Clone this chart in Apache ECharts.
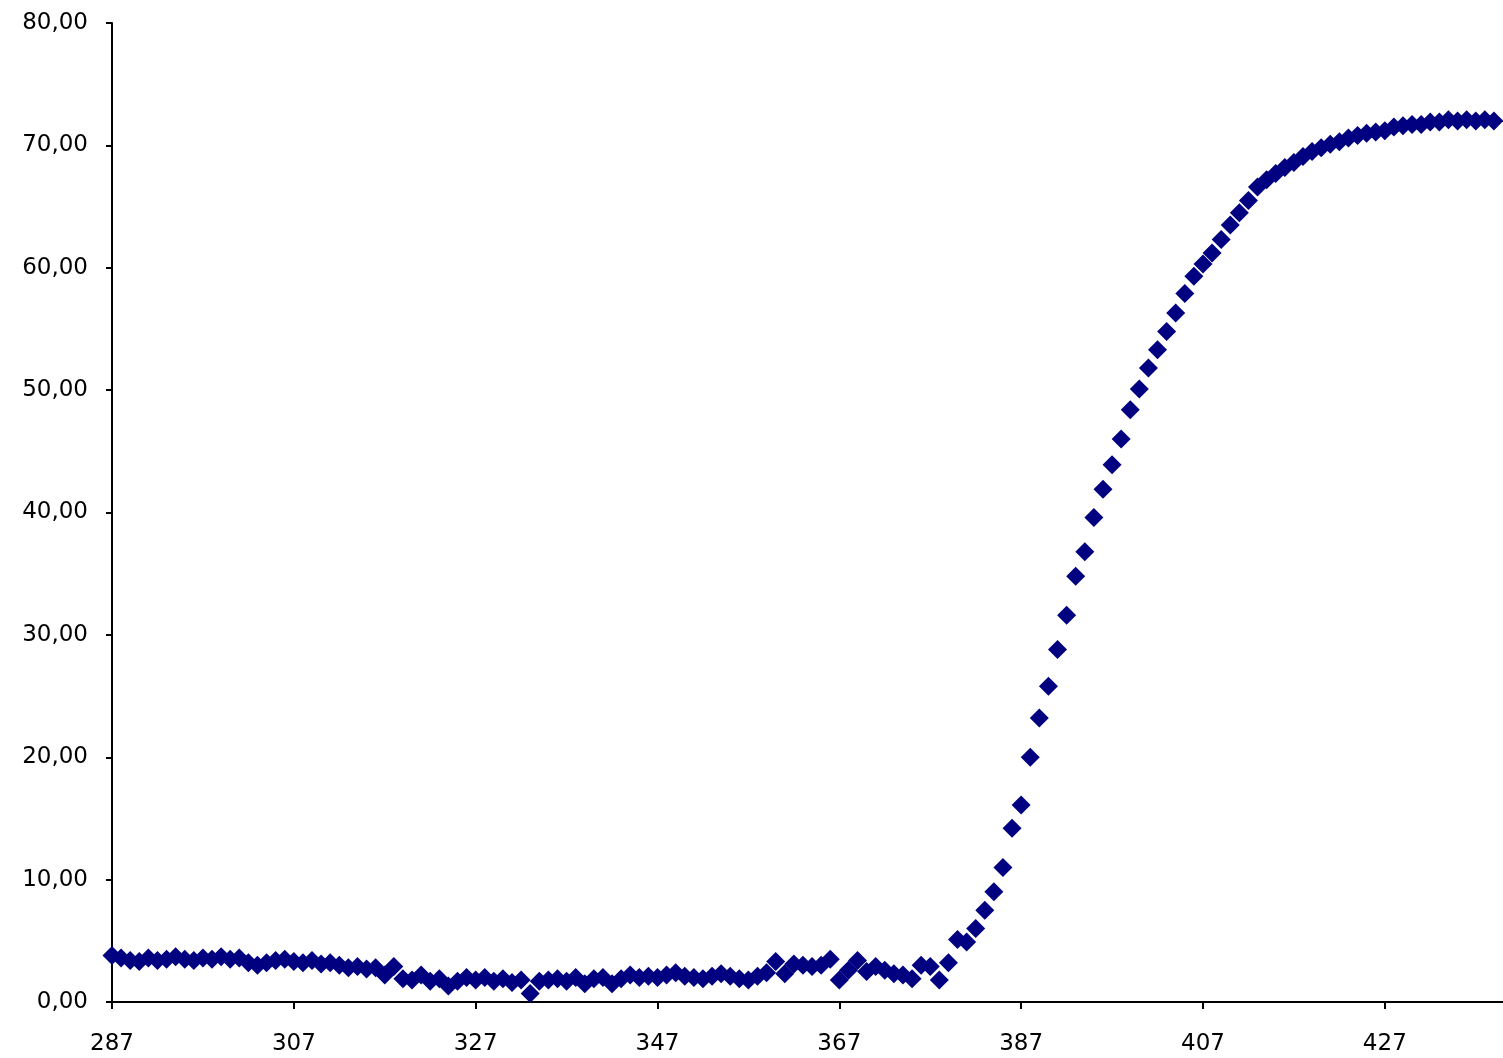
<!DOCTYPE html>
<html>
<head>
<meta charset="utf-8">
<script src="https://cdn.jsdelivr.net/npm/echarts@6/dist/echarts.min.js"></script>
<style>
html,body{margin:0;padding:0;background:#fff;}
#chart{width:1503px;height:1058px;}
</style>
</head>
<body>
<div id="chart"></div>
<script>
var xStart = 287;
var yValues = [
  3.8, 3.6, 3.4, 3.3, 3.6, 3.4, 3.5, 3.7, 3.5, 3.4,
  3.6, 3.5, 3.7, 3.5, 3.6, 3.2, 3.0, 3.2, 3.4, 3.5,
  3.3, 3.2, 3.4, 3.1, 3.2, 3.0, 2.8, 2.9, 2.7, 2.8,
  2.2, 2.9, 1.9, 1.8, 2.2, 1.7, 1.9, 1.3, 1.7, 2.0,
  1.8, 2.0, 1.7, 1.9, 1.6, 1.8, 0.7, 1.7, 1.8, 1.9,
  1.7, 2.0, 1.5, 1.9, 2.0, 1.5, 1.9, 2.2, 2.0, 2.1,
  2.0, 2.2, 2.4, 2.1, 2.0, 1.9, 2.1, 2.3, 2.1, 1.9,
  1.8, 2.1, 2.4, 3.3, 2.3, 3.1, 3.0, 2.9, 3.0, 3.5,
  1.8, 2.6, 3.4, 2.5, 2.9, 2.6, 2.3, 2.2, 1.9, 3.0,
  2.9, 1.8, 3.2, 5.1, 4.9, 6.0, 7.5, 9.0, 11.0, 14.2,
  16.1, 20.0, 23.2, 25.8, 28.8, 31.6, 34.8, 36.8, 39.6, 41.9,
  43.9, 46.0, 48.4, 50.1, 51.8, 53.3, 54.8, 56.3, 57.9, 59.3,
  60.3, 61.2, 62.3, 63.5, 64.5, 65.5, 66.6, 67.2, 67.7, 68.2,
  68.6, 69.1, 69.5, 69.8, 70.1, 70.3, 70.6, 70.8, 71.0, 71.1,
  71.2, 71.5, 71.6, 71.7, 71.7, 71.9, 71.9, 72.1, 72.0, 72.1,
  72.0, 72.1, 72.0
];
var xMin = 287, xMax = 440, xInterval = 20;
var yMin = 0, yMax = 80, yInterval = 10;

var points = yValues.map(function (v, i) { return [xStart + i, v]; });

var chart = echarts.init(document.getElementById('chart'), null, {renderer: 'canvas'});
var labelFont = {color: '#000', fontFamily: 'DejaVu Sans', fontSize: 23};
chart.setOption({
  animation: false,
  backgroundColor: '#fff',
  grid: {left: 112, top: 23, bottom: 56, width: 1394, containLabel: false},
  xAxis: {
    type: 'value', min: xMin, max: xMax, interval: xInterval,
    axisLine: {show: true, onZero: false, lineStyle: {color: '#000', width: 2}},
    axisTick: {show: true, length: 7, lineStyle: {color: '#000', width: 2}},
    axisLabel: Object.assign({margin: 31, showMaxLabel: false}, labelFont),
    splitLine: {show: false}
  },
  yAxis: {
    type: 'value', min: yMin, max: yMax, interval: yInterval,
    axisLine: {show: true, lineStyle: {color: '#000', width: 2}},
    axisTick: {show: true, length: 6, lineStyle: {color: '#000', width: 2}},
    axisLabel: Object.assign({margin: 24, formatter: function (v) { return v.toFixed(2).replace('.', ','); }}, labelFont),
    splitLine: {show: false}
  },
  series: [{
    type: 'scatter',
    symbol: 'diamond',
    symbolSize: 19,
    itemStyle: {color: '#000080', opacity: 1},
    data: points
  }]
});
</script>
</body>
</html>
